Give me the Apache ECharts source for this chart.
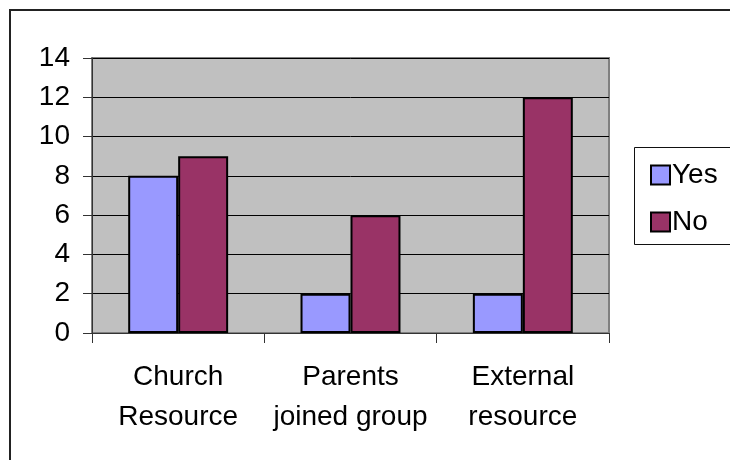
<!DOCTYPE html>
<html>
<head>
<meta charset="utf-8">
<script src="https://cdn.jsdelivr.net/npm/echarts@6/dist/echarts.min.js"></script>
<style>
  html, body { margin: 0; padding: 0; background: #fff; }
  #chart { width: 730px; height: 460px; }
</style>
</head>
<body>
<div id="chart"></div>
<script>
// Survey responses per support source
const categories = ['Church\nResource', 'Parents\njoined group', 'External\nresource'];
const yesValues = [8, 2, 2];
const noValues = [9, 6, 12];
const seriesNames = ['Yes', 'No'];

const FONT = '"Liberation Sans", Arial, sans-serif';
const chart = echarts.init(document.getElementById('chart'), null, { renderer: 'canvas' });

chart.setOption({
  animation: false,
  backgroundColor: '#ffffff',
  textStyle: { fontFamily: FONT },
  graphic: [
    // outer chart frame
    {
      type: 'rect', z: 0,
      shape: { x: 10, y: 10, width: 740, height: 470 },
      style: { fill: 'none', stroke: '#222', lineWidth: 2 }
    },
    // legend frame
    {
      type: 'rect', z: 0,
      shape: { x: 634.5, y: 147.5, width: 110, height: 97 },
      style: { fill: '#fff', stroke: '#111', lineWidth: 1 }
    }
  ],
  grid: {
    left: 92, top: 58, width: 517, height: 275,
    show: true, backgroundColor: '#C0C0C0', borderColor: '#808080', borderWidth: 2
  },
  legend: {
    orient: 'vertical',
    left: 645, top: 156,
    itemWidth: 19, itemHeight: 19, itemGap: 19,
    icon: 'rect',
    textStyle: { fontSize: 28, color: '#000', fontFamily: FONT, padding: [0, 0, 0, -3] },
    data: seriesNames
  },
  xAxis: {
    type: 'category',
    data: categories,
    axisLine: { show: true, lineStyle: { color: '#333', width: 1 } },
    axisTick: { show: true, length: 10, inside: false, lineStyle: { color: '#333' } },
    axisLabel: {
      fontSize: 28, color: '#000', lineHeight: 40, margin: 24, interval: 0, fontFamily: FONT
    },
    splitLine: { show: false }
  },
  yAxis: {
    type: 'value',
    min: 0, max: 14, interval: 2,
    axisLine: { show: true, lineStyle: { color: '#333', width: 1 } },
    axisTick: { show: true, length: 9, lineStyle: { color: '#333' } },
    axisLabel: { fontSize: 28, color: '#000', margin: 22, fontFamily: FONT },
    splitLine: { show: true, lineStyle: { color: '#000', width: 1 } }
  },
  series: [
    {
      name: seriesNames[0], type: 'bar', data: yesValues,
      barGap: '0%', barCategoryGap: '42%',
      itemStyle: { color: '#9999FF', borderColor: '#000', borderWidth: 2 }
    },
    {
      name: seriesNames[1], type: 'bar', data: noValues,
      barGap: '0%', barCategoryGap: '42%',
      itemStyle: { color: '#993366', borderColor: '#000', borderWidth: 2 }
    }
  ]
});
</script>
</body>
</html>
